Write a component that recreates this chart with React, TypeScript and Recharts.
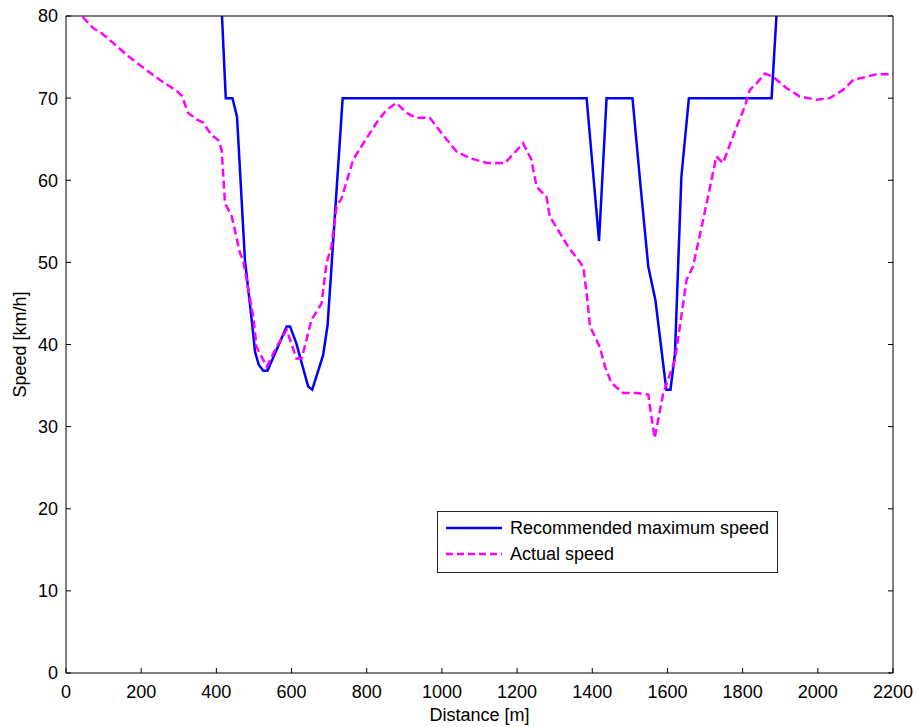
import { LineChart, Line, XAxis, YAxis, Legend } from 'recharts';

// distance [m] / speed [km/h]
const recommendedDist = [
  405, 425, 443, 455, 476, 494, 503, 513, 525, 536, 587, 596, 613, 644, 655, 684, 696, 736,
  1385, 1418, 1438, 1507, 1527, 1549, 1568, 1597, 1608, 1620, 1637, 1657, 1877, 1903,
];
const recommendedSpeed = [
  90, 70, 70, 67.7, 50.3, 43, 39.1, 37.5, 36.8, 36.8, 42.2, 42.2, 40.1, 34.9, 34.5, 38.7, 42.4, 70,
  70, 52.6, 70, 70, 60, 49.5, 45.4, 34.5, 34.5, 38.9, 60.4, 70, 70, 90,
];

const actualDist = [
  0, 73, 95, 126, 166, 197, 250, 294, 308, 325, 348, 365, 387, 405, 414, 423, 441, 463, 471,
  498, 507, 534, 560, 587, 613, 627, 653, 680, 693, 706, 720, 733, 764, 791, 826, 853, 879,
  906, 932, 968, 1003, 1039, 1074, 1119, 1168, 1216, 1238, 1252, 1278, 1287, 1336, 1376, 1385,
  1394, 1420, 1434, 1451, 1482, 1518, 1549, 1556, 1566, 1589, 1620, 1633, 1651, 1668, 1695,
  1717, 1730, 1748, 1784, 1806, 1819, 1837, 1859, 1881, 1917, 1952, 1996, 2032, 2067, 2094,
  2129, 2156, 2200,
];
const actualSpeed = [
  82, 78.5, 77.9, 76.7, 75.1, 74.0, 72.2, 70.9, 70.3, 68.2, 67.4, 67.0, 65.5, 64.9, 63.7, 57.2,
  55.6, 51.1, 50.3, 43.4, 39.7, 37.3, 39.7, 41.8, 38.3, 38.3, 43.0, 45.0, 49.9, 51.9, 56.8, 57.8,
  62.5, 64.5, 67.0, 68.6, 69.4, 68.2, 67.6, 67.6, 65.5, 63.5, 62.7, 62.1, 62.1, 64.5, 62.5, 59.2,
  58.0, 55.6, 51.9, 49.5, 46.2, 42.2, 39.7, 37.3, 35.3, 34.1, 34.1, 33.9, 31.6, 28.6, 34.1, 38.1,
  42.2, 47.9, 49.5, 55.2, 60.0, 62.9, 62.1, 66.5, 69.0, 71.0, 71.8, 73.0, 72.6, 71.2, 70.2, 69.8,
  70.0, 71.0, 72.2, 72.6, 72.9, 72.9,
];

const xTicks = [0, 200, 400, 600, 800, 1000, 1200, 1400, 1600, 1800, 2000, 2200];
const yTicks = [0, 10, 20, 30, 40, 50, 60, 70, 80];

const recommended = recommendedDist.map((d, i) => ({ d, v: recommendedSpeed[i] }));
const actual = actualDist.map((d, i) => ({ d, v: actualSpeed[i] }));

const FONT = '"Liberation Sans", Arial, sans-serif';
const FS = 18;
const tickStyle = { fontSize: FS, fill: '#000', fontFamily: FONT };
const axisStroke = { stroke: '#000' };
const blank = () => '';

function LegendBox() {
  const row = { display: 'flex', alignItems: 'center', height: 26 };
  return (
    <div
      style={{
        border: '1px solid #222',
        background: '#fff',
        width: 339,
        height: 57,
        boxSizing: 'content-box',
        fontFamily: FONT,
        fontSize: FS,
        color: '#000',
        paddingTop: 3,
      }}
    >
      <div style={row}>
        <svg width={72} height={10}>
          <line x1={8} y1={5} x2={64} y2={5} stroke="#0000ff" strokeWidth={2.5} />
        </svg>
        <span>Recommended maximum speed</span>
      </div>
      <div style={row}>
        <svg width={72} height={10}>
          <line x1={8} y1={5} x2={64} y2={5} stroke="#ff00ff" strokeWidth={2.5} strokeDasharray="7 4" />
        </svg>
        <span>Actual speed</span>
      </div>
    </div>
  );
}

export default function App() {
  return (
    <div style={{ position: 'absolute', left: 0, top: 0, background: '#fff' }}>
      <LineChart
        width={917}
        height={727}
        margin={{ top: 0, right: 0, bottom: 4, left: 0 }}
        style={{ fontFamily: FONT }}
      >
        <XAxis
          type="number"
          dataKey="d"
          domain={[0, 2200]}
          ticks={xTicks}
          allowDataOverflow
          height={50}
          tickSize={-5}
          tickMargin={17}
          tick={tickStyle}
          axisLine={axisStroke}
          tickLine={axisStroke}
          label={{ value: 'Distance [m]', position: 'insideBottom', offset: 2, fontSize: FS, fill: '#000', fontFamily: FONT }}
        />
        <XAxis
          xAxisId="top"
          orientation="top"
          type="number"
          domain={[0, 2200]}
          ticks={xTicks}
          allowDataOverflow
          height={16}
          tickSize={-5}
          tickFormatter={blank}
          axisLine={axisStroke}
          tickLine={axisStroke}
        />
        <YAxis
          type="number"
          domain={[0, 80]}
          ticks={yTicks}
          allowDataOverflow
          width={66}
          tickSize={-5}
          tickMargin={13}
          tick={tickStyle}
          axisLine={axisStroke}
          tickLine={axisStroke}
          label={{
            value: 'Speed [km/h]',
            angle: -90,
            position: 'insideLeft',
            offset: 20,
            style: { textAnchor: 'middle' },
            fontSize: FS,
            fill: '#000',
            fontFamily: FONT,
          }}
        />
        <YAxis
          yAxisId="right"
          orientation="right"
          type="number"
          domain={[0, 80]}
          ticks={yTicks}
          allowDataOverflow
          width={24}
          tickSize={-5}
          tickFormatter={blank}
          axisLine={axisStroke}
          tickLine={axisStroke}
        />
        <Legend
          layout="vertical"
          align="center"
          verticalAlign="middle"
          content={() => <LegendBox />}
          wrapperStyle={{ left: 437, top: 511, width: 341, height: 61 }}
        />
        <Line
          data={recommended}
          dataKey="v"
          name="Recommended maximum speed"
          type="linear"
          stroke="#0000ff"
          strokeWidth={2.5}
          dot={false}
          activeDot={false}
          isAnimationActive={false}
        />
        <Line
          data={actual}
          dataKey="v"
          name="Actual speed"
          type="linear"
          stroke="#ff00ff"
          strokeWidth={2.5}
          strokeDasharray="8 4"
          dot={false}
          activeDot={false}
          isAnimationActive={false}
        />
      </LineChart>
    </div>
  );
}
